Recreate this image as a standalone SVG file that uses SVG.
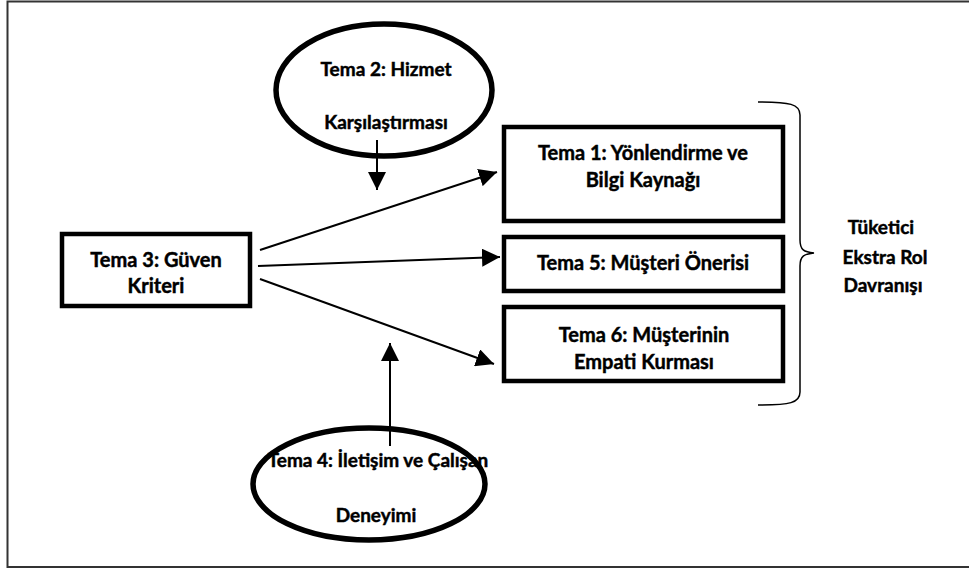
<svg xmlns="http://www.w3.org/2000/svg" width="969" height="570" viewBox="0 0 969 570">
<style>
.t{font-family:"Lato","Open Sans","Liberation Sans",sans-serif;font-weight:bold;font-size:19px;fill:#000;stroke:#000;stroke-width:0.45;text-anchor:middle}
.b{font-size:20px}
.box{fill:#fff;stroke:#000;stroke-width:4.5}
.ell{fill:#fff;stroke:#000;stroke-width:5.5}
.con{stroke:#000;stroke-width:2;fill:none}
</style>
<defs>
<marker id="ahb" viewBox="0 0 10 10" refX="10" refY="5" markerWidth="18" markerHeight="18" markerUnits="userSpaceOnUse" orient="auto">
<path d="M0,0 L10,5 L0,10 z" fill="#000"/>
</marker>
</defs>
<rect x="7.5" y="1.5" width="970" height="565.5" fill="#fff" stroke="#333" stroke-width="2"/>
<g id="tema2">
<ellipse class="ell" cx="384" cy="90" rx="108" ry="66"/>
<text class="t" x="386" y="76">Tema 2: Hizmet</text>
<text class="t" x="386" y="129">Karşılaştırması</text>
</g>
<g id="tema3">
<rect class="box" x="62" y="234" width="188" height="72"/>
<text class="t b" x="156" y="267">Tema 3: Güven</text>
<text class="t b" x="156" y="293">Kriteri</text>
</g>
<g id="tema1">
<rect class="box" x="504" y="127" width="279" height="94"/>
<text class="t b" x="643" y="160">Tema 1: Yönlendirme ve</text>
<text class="t b" x="643" y="187">Bilgi Kaynağı</text>
</g>
<g id="tema5">
<rect class="box" x="504" y="237" width="279" height="54"/>
<text class="t b" x="643" y="270">Tema 5: Müşteri Önerisi</text>
</g>
<g id="tema6">
<rect class="box" x="504" y="307" width="279" height="74"/>
<text class="t b" x="644" y="342">Tema 6: Müşterinin</text>
<text class="t b" x="644" y="369">Empati Kurması</text>
</g>
<g id="tema4">
<ellipse class="ell" cx="369" cy="484" rx="116" ry="56"/>
<text class="t" x="378" y="467">Tema 4: İletişim ve Çalışan</text>
<text class="t" x="376" y="522">Deneyimi</text>
</g>
<g id="brace">
<path d="M758,102 C790,102 800,104 800,115 L800,240 C800,250 804,252 814,253 C804,254 800,256 800,266 L800,392 C800,403 790,405 758,405" fill="none" stroke="#000" stroke-width="1.5"/>
<text class="t" x="881" y="234">Tüketici</text>
<text class="t" x="885" y="264">Ekstra Rol</text>
<text class="t" x="883" y="292">Davranışı</text>
</g>
<g id="connectors">
<line class="con" x1="260" y1="250" x2="497" y2="172" marker-end="url(#ahb)"/>
<line class="con" x1="258" y1="266" x2="500" y2="257" marker-end="url(#ahb)"/>
<line class="con" x1="260" y1="279" x2="494" y2="364" marker-end="url(#ahb)"/>
<line class="con" x1="377" y1="140" x2="377" y2="190" marker-end="url(#ahb)"/>
<line class="con" x1="390" y1="446" x2="390" y2="343" marker-end="url(#ahb)"/>
</g>
</svg>
